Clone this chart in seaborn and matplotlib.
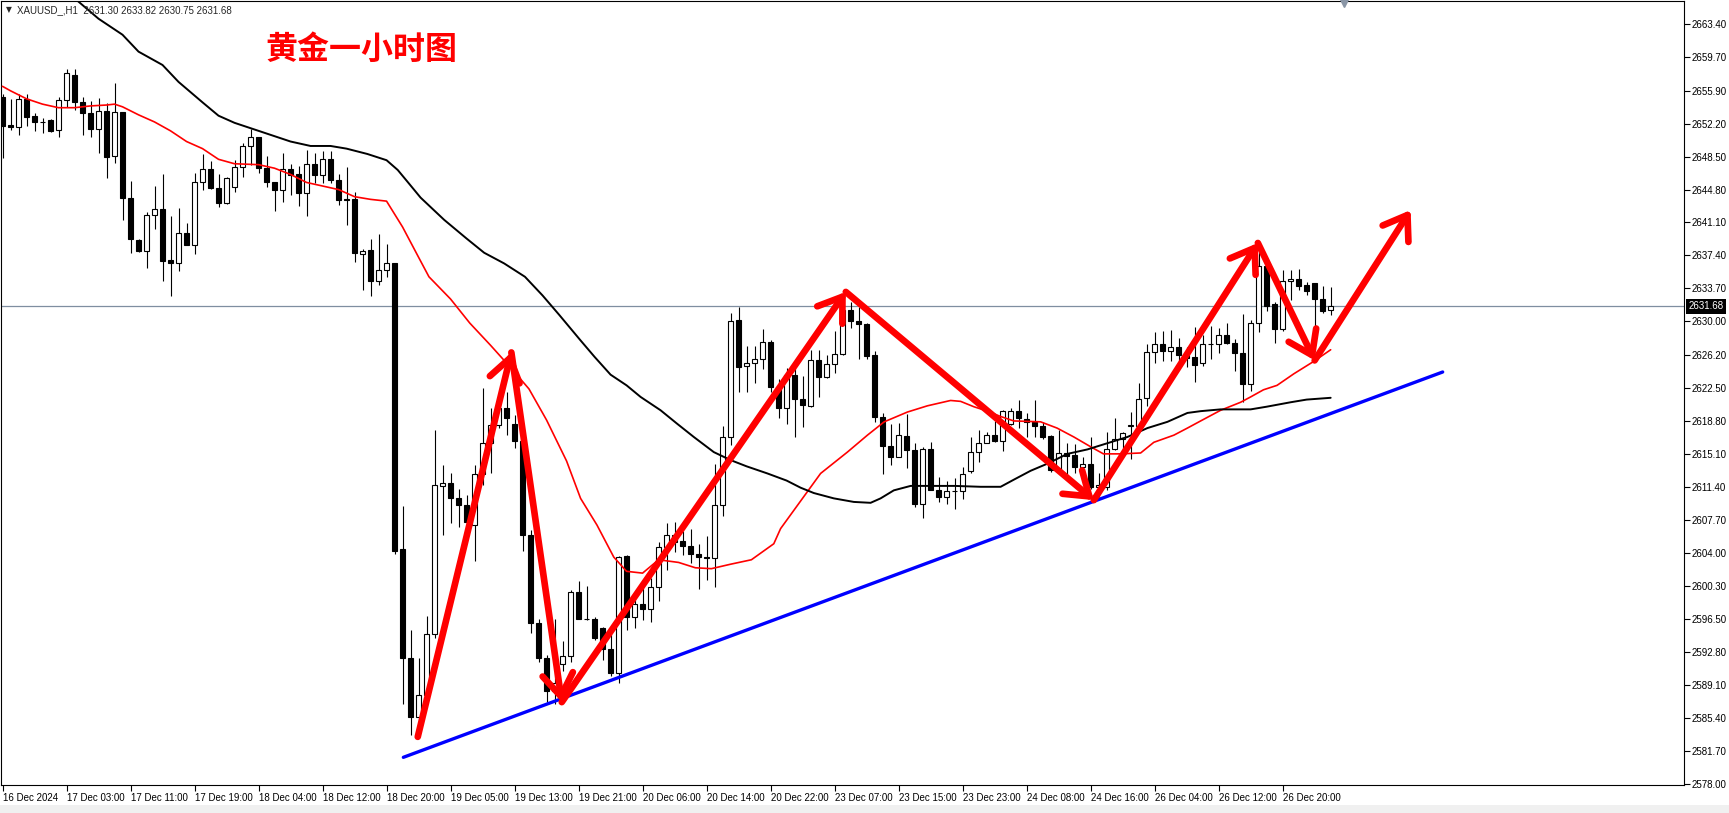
import numpy as np
import pandas as pd
import matplotlib
matplotlib.use('Agg')
import matplotlib.pyplot as plt
import matplotlib.transforms as mtransforms
import seaborn as sns

# hourly XAUUSD candles (bar index = position on chart)
opens = [2655.2, 2652.0, 2651.8, 2655.0, 2653.1, 2652.4, 2652.6, 2651.5, 2654.9, 2657.7,
         2654.6, 2653.4, 2651.6, 2653.6, 2648.6, 2653.5, 2643.8, 2639.1, 2637.9, 2641.9,
         2642.6, 2636.9, 2636.5, 2639.9, 2638.6, 2645.7, 2647.1, 2645.0, 2643.3, 2645.1,
         2647.3, 2649.7, 2650.7, 2647.2, 2645.6, 2644.8, 2647.1, 2646.5, 2644.4, 2647.7,
         2646.4, 2648.2, 2645.9, 2643.7, 2643.7, 2637.6, 2638.0, 2634.5, 2635.8, 2636.5,
         2604.4, 2592.2, 2585.5, 2588.0, 2594.9, 2611.5, 2611.8, 2610.1, 2609.3, 2607.1,
         2612.8, 2616.3, 2618.3, 2620.2, 2618.5, 2616.6, 2606.0, 2596.1, 2592.2, 2588.4,
         2591.5, 2592.4, 2599.6, 2596.6, 2596.6, 2595.5, 2593.2, 2590.5, 2603.6, 2596.8,
         2598.2, 2597.7, 2600.1, 2604.6, 2606.0, 2605.3, 2604.7, 2603.9, 2603.5, 2603.4,
         2609.3, 2617.0, 2630.1, 2625.0, 2625.3, 2625.8, 2627.7, 2622.6, 2620.3, 2624.0,
         2621.3, 2620.5, 2625.7, 2623.7, 2625.2, 2626.3, 2631.3, 2630.0, 2629.7, 2626.2,
         2619.2, 2616.0, 2614.8, 2617.1, 2615.5, 2609.5, 2615.7, 2611.0, 2610.2, 2610.9,
         2610.9, 2613.2, 2615.3, 2616.3, 2617.2, 2616.5, 2618.5, 2619.9, 2619.0, 2618.7,
         2618.2, 2617.1, 2613.3, 2615.2, 2615.0, 2613.6, 2614.0, 2611.4, 2611.4, 2615.7,
         2616.8, 2618.2, 2618.2, 2621.4, 2626.5, 2627.5, 2626.7, 2627.1, 2626.2, 2626.0,
         2625.3, 2627.4, 2627.4, 2628.5, 2627.6, 2626.4, 2622.9, 2629.8, 2636.2, 2631.9,
         2629.1, 2634.5, 2634.7, 2634.1, 2634.3, 2632.5, 2631.30]
highs = [2655.5, 2655.0, 2655.5, 2655.5, 2653.4, 2652.8, 2652.7, 2655.2, 2658.3, 2658.4,
         2655.2, 2654.7, 2655.1, 2654.5, 2656.8, 2653.5, 2645.8, 2639.3, 2642.3, 2645.2,
         2646.6, 2641.8, 2642.7, 2641.0, 2646.7, 2648.8, 2648.0, 2646.6, 2646.2, 2648.1,
         2650.0, 2651.6, 2650.7, 2648.6, 2645.7, 2648.9, 2647.7, 2647.4, 2649.3, 2648.9,
         2649.1, 2649.1, 2646.6, 2647.3, 2644.5, 2638.1, 2639.2, 2639.8, 2638.7, 2636.6,
         2609.2, 2595.3, 2592.2, 2596.9, 2617.8, 2613.8, 2613.0, 2611.1, 2610.5, 2613.9,
         2622.5, 2620.3, 2621.5, 2622.0, 2619.5, 2617.0, 2606.5, 2596.5, 2592.5, 2596.5,
         2594.1, 2599.8, 2600.8, 2600.2, 2596.8, 2595.7, 2594.9, 2603.6, 2603.7, 2599.1,
         2600.0, 2601.1, 2605.2, 2607.3, 2607.5, 2606.4, 2606.7, 2605.0, 2605.9, 2614.0,
         2618.2, 2630.9, 2631.6, 2627.2, 2627.2, 2629.1, 2627.9, 2623.5, 2624.7, 2624.7,
         2623.8, 2626.8, 2626.8, 2626.2, 2628.9, 2632.2, 2632.2, 2631.6, 2629.8, 2626.7,
         2619.7, 2618.5, 2618.6, 2619.6, 2616.3, 2615.9, 2616.4, 2612.5, 2612.0, 2612.4,
         2613.6, 2617.0, 2617.8, 2617.6, 2618.8, 2620.0, 2620.2, 2621.2, 2619.7, 2621.2,
         2618.7, 2617.2, 2617.8, 2616.3, 2616.2, 2614.8, 2617.0, 2613.0, 2617.6, 2619.1,
         2617.6, 2619.8, 2623.1, 2627.5, 2628.8, 2628.9, 2629.0, 2628.1, 2627.1, 2629.4,
         2628.5, 2629.5, 2629.2, 2629.8, 2628.0, 2630.8, 2630.1, 2637.8, 2636.4, 2632.2,
         2635.8, 2635.8, 2635.9, 2634.4, 2634.3, 2634.0, 2633.82]
lows = [2648.3, 2651.5, 2650.9, 2651.9, 2651.4, 2651.2, 2651.3, 2650.7, 2654.1, 2653.7,
        2650.9, 2650.7, 2648.9, 2646.1, 2647.8, 2641.4, 2637.7, 2637.8, 2636.0, 2640.4,
        2634.5, 2632.8, 2635.6, 2638.6, 2637.6, 2644.7, 2644.9, 2642.8, 2643.2, 2644.5,
        2646.2, 2647.6, 2646.7, 2645.1, 2642.4, 2643.4, 2644.2, 2643.0, 2641.8, 2645.5,
        2645.5, 2645.5, 2643.1, 2640.8, 2636.7, 2633.5, 2632.8, 2634.1, 2635.0, 2603.9,
        2587.0, 2583.5, 2583.3, 2587.2, 2594.4, 2606.0, 2607.3, 2606.9, 2606.0, 2603.1,
        2611.6, 2612.9, 2618.0, 2617.2, 2615.8, 2604.2, 2595.0, 2591.7, 2587.2, 2587.0,
        2590.7, 2591.7, 2596.5, 2596.4, 2594.2, 2591.9, 2590.1, 2589.3, 2595.3, 2595.5,
        2596.4, 2596.2, 2598.6, 2602.1, 2604.1, 2603.7, 2602.8, 2599.9, 2600.9, 2600.1,
        2608.1, 2616.1, 2622.1, 2622.0, 2623.1, 2624.6, 2622.0, 2619.1, 2618.5, 2617.0,
        2618.1, 2620.4, 2621.5, 2623.6, 2624.2, 2626.2, 2629.2, 2625.8, 2625.8, 2618.7,
        2612.8, 2613.8, 2614.7, 2613.5, 2609.1, 2607.9, 2611.0, 2609.7, 2609.5, 2608.9,
        2610.0, 2612.9, 2614.2, 2616.3, 2616.4, 2615.4, 2618.4, 2618.0, 2617.0, 2617.0,
        2616.8, 2613.1, 2613.1, 2612.2, 2612.9, 2612.7, 2611.2, 2610.3, 2611.0, 2615.5,
        2615.0, 2614.5, 2617.5, 2620.5, 2625.3, 2625.5, 2625.5, 2625.5, 2624.9, 2623.2,
        2625.0, 2625.8, 2626.4, 2627.5, 2624.4, 2620.9, 2622.2, 2628.8, 2631.2, 2627.6,
        2628.9, 2632.4, 2633.5, 2632.9, 2628.8, 2630.9, 2630.75]
closes = [2651.9, 2651.8, 2655.0, 2653.0, 2652.4, 2652.4, 2651.4, 2654.9, 2657.9, 2654.6,
          2653.4, 2651.6, 2653.6, 2648.5, 2653.5, 2643.9, 2639.2, 2637.9, 2641.9, 2642.6,
          2636.8, 2636.5, 2639.9, 2638.6, 2645.7, 2647.1, 2645.0, 2643.3, 2646.1, 2647.3,
          2649.7, 2650.7, 2647.2, 2645.6, 2644.8, 2647.1, 2646.4, 2644.4, 2647.7, 2646.4,
          2648.2, 2645.9, 2643.6, 2643.6, 2637.7, 2637.9, 2634.5, 2635.8, 2636.5, 2604.2,
          2592.2, 2585.5, 2588.0, 2594.9, 2611.6, 2611.8, 2610.1, 2609.3, 2607.5, 2612.8,
          2616.3, 2618.4, 2620.2, 2619.1, 2616.6, 2606.0, 2596.1, 2592.2, 2588.4, 2589.3,
          2592.4, 2599.6, 2596.6, 2596.6, 2594.4, 2593.2, 2590.5, 2603.5, 2596.8, 2598.2,
          2597.7, 2600.1, 2604.6, 2606.0, 2605.2, 2604.7, 2603.9, 2603.5, 2603.4, 2609.3,
          2617.0, 2630.0, 2624.9, 2625.3, 2625.8, 2627.7, 2622.6, 2620.3, 2624.0, 2621.3,
          2620.6, 2625.7, 2623.7, 2625.2, 2626.3, 2631.3, 2630.0, 2629.7, 2626.1, 2619.2,
          2616.0, 2614.8, 2617.2, 2615.5, 2609.5, 2615.7, 2611.0, 2610.2, 2610.9, 2610.9,
          2612.8, 2615.3, 2616.3, 2617.2, 2616.5, 2619.9, 2619.9, 2619.1, 2618.7, 2618.2,
          2617.0, 2613.3, 2615.2, 2614.9, 2613.6, 2614.0, 2611.4, 2611.6, 2615.7, 2616.8,
          2617.5, 2618.3, 2621.3, 2626.5, 2627.5, 2626.7, 2627.1, 2626.2, 2625.9, 2625.1,
          2627.4, 2627.5, 2628.5, 2627.6, 2626.4, 2622.9, 2629.8, 2636.2, 2631.7, 2629.1,
          2634.5, 2634.7, 2634.0, 2633.4, 2632.5, 2631.2, 2631.68]

# moving averages (bar, price)
ma_fast_bar = [0, 1, 3, 5, 7, 9, 11, 13, 14, 15, 17, 19, 21, 23, 25, 27, 29, 32, 34, 36,
               38, 40, 42, 44, 46, 48, 50, 52, 53.3, 56, 58.4, 61, 63.6, 65.8, 68, 70.5,
               72.25, 74.3, 76.4, 78, 80, 82, 84.5, 86.6, 88.6, 91, 93.6, 96.4, 97.25,
               99.75, 102.25, 105.6, 108.1, 110.2, 113.1, 115.6, 118.5, 119.75, 121.4,
               123.1, 124.75, 126.4, 129.75, 131.8, 133.9, 136, 137.6, 139.75, 142.25,
               143.9, 146.4, 148.1, 149.75, 152.25, 154.75, 156, 157.6, 159.3, 161.4,
               163.9, 166]
ma_fast_val = [2656.4, 2655.9, 2655.0, 2654.4, 2654.0, 2654.0, 2654.2, 2654.3, 2654.4,
               2654.1, 2653.2, 2652.4, 2651.4, 2650.2, 2649.4, 2648.2, 2647.7, 2647.6,
               2647.2, 2646.5, 2645.6, 2645.2, 2644.8, 2644.0, 2643.7, 2643.5, 2640.6,
               2637.2, 2635.0, 2632.5, 2629.8, 2627.3, 2624.7, 2622.4, 2618.9, 2614.3,
               2610.1, 2607.1, 2603.5, 2601.9, 2601.7, 2603.2, 2602.9, 2602.3, 2602.2,
               2602.7, 2603.2, 2605.0, 2606.7, 2609.8, 2612.9, 2615.3, 2617.2, 2618.7,
               2619.8, 2620.5, 2621.1, 2621.0, 2620.4, 2619.9, 2619.3, 2618.8, 2618.7,
               2618.0, 2617.0, 2615.9, 2615.1, 2615.1, 2615.2, 2616.4, 2617.2, 2618.0,
               2618.8, 2620.0, 2620.9, 2621.5, 2622.3, 2622.8, 2624.1, 2625.5, 2626.8]
ma_slow_bar = [9, 12, 15, 17, 20, 22, 25, 27, 29, 31, 34, 36, 38.5, 41, 43, 45.6, 48, 49.4,
               50.6, 52.25, 55.2, 58, 60.2, 62.7, 65.3, 67.5, 69.6, 72.2, 74, 76, 78, 79.75,
               82.25, 84.3, 86.4, 88.9, 91, 93, 95.6, 98, 99.75, 101.4, 103.9, 106.4, 108.5,
               109.75, 111.4, 113.5, 116, 119, 122.25, 124.75, 126.4, 128.5, 130.6, 133.1,
               135.6, 138.1, 140.6, 143.1, 145.6, 148.1, 149.75, 152.25, 156, 158, 161,
               163, 166]
ma_slow_val = [2666.3, 2664.0, 2662.2, 2660.3, 2658.8, 2656.9, 2654.6, 2653.1, 2652.3,
               2651.7, 2650.8, 2650.2, 2649.7, 2649.7, 2649.4, 2648.8, 2648.1, 2647.0,
               2645.7, 2643.9, 2641.4, 2639.3, 2637.7, 2636.5, 2635.0, 2632.9, 2630.7,
               2627.9, 2626.0, 2624.0, 2622.8, 2621.5, 2620.0, 2618.5, 2617.0, 2615.3,
               2614.4, 2613.7, 2612.9, 2612.1, 2611.3, 2610.7, 2610.1, 2609.7, 2609.6,
               2610.1, 2611.0, 2611.5, 2611.5, 2611.5, 2611.4, 2611.4, 2612.2, 2613.2,
               2614.0, 2615.1, 2615.6, 2616.3, 2617.0, 2618.0, 2618.7, 2619.7, 2619.9,
               2620.1, 2620.1, 2620.4, 2620.9, 2621.2, 2621.4]

# hand-drawn swing arrows and trend line (bar, price)
swing_bar = [51.9, 63.6, 69.9, 105.4, 136.4, 156.9, 164.0, 176.0]
swing_val = [2583.3, 2626.5, 2587.2, 2633.3, 2609.9, 2638.8, 2625.6, 2642.5]
trend_bar = [50.1, 180.0]
trend_val = [2581.0, 2624.3]

time_labels = ['16 Dec 2024', '17 Dec 03:00', '17 Dec 11:00', '17 Dec 19:00', '18 Dec 04:00',
               '18 Dec 12:00', '18 Dec 20:00', '19 Dec 05:00', '19 Dec 13:00', '19 Dec 21:00',
               '20 Dec 06:00', '20 Dec 14:00', '20 Dec 22:00', '23 Dec 07:00', '23 Dec 15:00',
               '23 Dec 23:00', '24 Dec 08:00', '24 Dec 16:00', '26 Dec 04:00', '26 Dec 12:00',
               '26 Dec 20:00']
price_ticks = [2663.40, 2659.70, 2655.90, 2652.20, 2648.50, 2644.80, 2641.10, 2637.40,
               2633.70, 2630.00, 2626.20, 2622.50, 2618.80, 2615.10, 2611.40, 2607.70,
               2604.00, 2600.30, 2596.50, 2592.80, 2589.10, 2585.40, 2581.70, 2578.00]
last_price = 2631.68

sns.set_style('white')
plt.rcParams['font.family'] = ['Liberation Sans', 'DejaVu Sans']

df = pd.DataFrame({'open': opens, 'high': highs, 'low': lows, 'close': closes})
df['bar'] = np.arange(len(df))
up = df['close'] >= df['open']

fig = plt.figure(figsize=(17.29, 8.13), dpi=100)
fig.patches.append(plt.Rectangle((0, 0), 1, 8 / 813, transform=fig.transFigure,
                                 facecolor='#f0f0f0', edgecolor='none', zorder=0))
ax = fig.add_axes([0.5 / 1729, 28 / 813, 1683 / 1729, 784 / 813])

ax.axhline(last_price, color='#7f8ea0', lw=0.9, zorder=1)

# candles
ax.vlines(df['bar'], df['low'], df['high'], color='black', lw=0.8, zorder=2)
ax.bar(df['bar'], (df['close'] - df['open']).abs(), bottom=np.minimum(df['open'], df['close']),
       width=0.62, color=np.where(up, 'white', 'black'), edgecolor='black', linewidth=0.8,
       zorder=3)

sns.lineplot(x=ma_fast_bar, y=ma_fast_val, color='#ff0000', lw=1.2, ax=ax, zorder=4)
sns.lineplot(x=ma_slow_bar, y=ma_slow_val, color='black', lw=1.4, ax=ax, zorder=4)
sns.lineplot(x=trend_bar, y=trend_val, color='#0000ff', lw=2.4, ax=ax, zorder=5)

for k in range(len(swing_bar) - 1):
    ax.annotate('', xy=(swing_bar[k + 1], swing_val[k + 1]),
                xytext=(swing_bar[k], swing_val[k]),
                arrowprops=dict(arrowstyle='->,head_length=0.8,head_width=0.55',
                                color='#ff0000', lw=4.8, shrinkA=0, shrinkB=0,
                                mutation_scale=20),
                zorder=6)

ax.set_xlim(-0.25, 210.1)
ax.set_ylim(2577.89, 2665.99)
ax.set_xticks(np.arange(len(time_labels)) * 8)
ax.set_xticklabels(time_labels, ha='left')
ax.set_yticks(price_ticks)
ax.set_yticklabels([f'{p:.2f}' for p in price_ticks])
ax.yaxis.tick_right()
ax.tick_params(axis='y', right=True, left=False, direction='out', length=4, width=0.8,
               labelsize=7, pad=2, colors='black')
ax.tick_params(axis='x', bottom=True, direction='out', length=4, width=0.8,
               labelsize=7, pad=2, colors='black')
ax.set_xlabel('')
ax.set_ylabel('')
for s in ax.spines.values():
    s.set_color('black')
    s.set_linewidth(0.8)

# current price tag on the right scale
trans = mtransforms.blended_transform_factory(ax.transAxes, ax.transData)
ax.text(1.003, last_price, f'{last_price:.2f}', transform=trans, ha='left', va='center',
        fontsize=7, color='white', clip_on=False,
        bbox=dict(facecolor='black', edgecolor='none', boxstyle='square,pad=0.25'))

# shift marker at the top
ax.plot([0.798], [0.997], marker='v', markersize=6, color='#8a96a6', transform=ax.transAxes,
        clip_on=False, zorder=7)

fig.text(9 / 1729, 1 - 10 / 813, '▼', fontsize=5.5, ha='center', va='center',
         family='DejaVu Sans')
fig.text(17 / 1729, 1 - 10 / 813, 'XAUUSD_,H1  2631.30 2633.82 2630.75 2631.68',
         fontsize=7, ha='left', va='center')
fig.text(361 / 1729, 1 - 50 / 813, '黄金一小时图', fontsize=23, fontweight='bold',
         color='#ff0000', ha='center', va='center',
         family=['Noto Sans CJK SC', 'DejaVu Sans'])

fig.savefig('out.png', dpi=100)
